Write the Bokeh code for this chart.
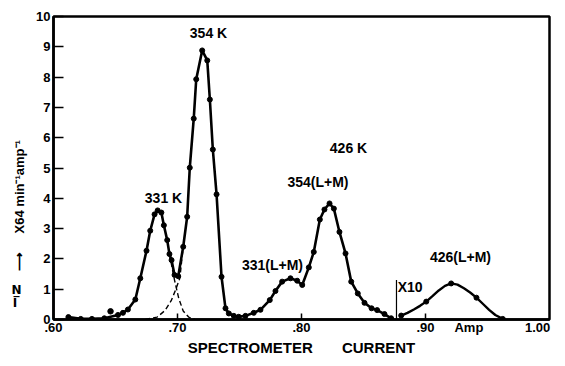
import numpy as np
from bokeh.plotting import figure
from bokeh.models import Label, FixedTicker, Range1d, LinearAxis
from bokeh.embed import file_html
from bokeh.resources import INLINE

# ---- data (x: spectrometer current in Amp, y: N/I x64) ----
main_x = [0.612, 0.622, 0.631, 0.641, 0.652, 0.656, 0.660, 0.666, 0.670, 0.675,
          0.678, 0.6815, 0.684, 0.687, 0.689, 0.6917, 0.6935, 0.6952, 0.6976, 0.7006,
          0.7046, 0.7078, 0.7099, 0.7131, 0.7151, 0.7199, 0.7240, 0.7261, 0.7285, 0.7315,
          0.7355, 0.7387, 0.7414, 0.7454, 0.7494, 0.7548, 0.7615, 0.7669, 0.7744, 0.7790,
          0.7844, 0.7911, 0.7965, 0.8006, 0.8059, 0.8099, 0.8148, 0.8185, 0.8226, 0.8261,
          0.8306, 0.8355, 0.8401, 0.8454, 0.8508, 0.8565, 0.8610, 0.8669, 0.8723]
main_y = [0.08, 0.02, 0.02, 0.04, 0.15, 0.22, 0.33, 0.66, 1.36, 2.27,
          2.93, 3.47, 3.60, 3.53, 3.11, 2.62, 2.16, 1.96, 1.47, 1.43,
          2.40, 3.39, 5.01, 6.63, 7.93, 8.88, 8.55, 7.26, 5.61, 4.13,
          1.41, 0.37, 0.20, 0.12, 0.09, 0.12, 0.22, 0.32, 0.64, 0.94,
          1.25, 1.36, 1.28, 1.14, 1.72, 2.23, 3.30, 3.63, 3.83, 3.66,
          2.89, 2.18, 1.25, 0.86, 0.55, 0.37, 0.31, 0.18, 0.04]
stray_x = [0.646]
stray_y = [0.27]

# 331 K and 354 K components (dashed) near their overlap
k331_tail_x = [0.6935, 0.6976, 0.7010, 0.7046, 0.7090, 0.7140]
k331_tail_y = [2.16, 1.30, 0.70, 0.28, 0.08, 0.00]
k354_rise_x = [0.6740, 0.6836, 0.6900, 0.6949, 0.6984, 0.7019, 0.7046]
k354_rise_y = [0.00, 0.08, 0.30, 0.62, 0.97, 1.37, 2.40]

# 426 (L+M) region, scaled x10
x10_x = [0.8804, 0.8855, 0.8906, 0.8956, 0.9006, 0.9056, 0.9107, 0.9157, 0.9207,
         0.9258, 0.9310, 0.9360, 0.9411, 0.9462, 0.9513, 0.9563, 0.9623]
x10_y = [0.13, 0.22, 0.33, 0.45, 0.59, 0.77, 0.96, 1.11, 1.19,
         1.15, 1.03, 0.89, 0.72, 0.52, 0.32, 0.15, 0.02]
x10_dot_x = [0.8804, 0.9006, 0.9207, 0.9411, 0.9623]
x10_dot_y = [0.13, 0.59, 1.19, 0.72, 0.02]
x10_mark_x = 0.8766
x10_mark_top = 1.3

# axis ticks / labels
x_ticks = [0.6, 0.7, 0.8, 0.9, 0.935, 1.0]
x_tick_labels = [".60", ".70", ".80", ".90", "Amp", "1.00\u00a0\u00a0"]
x_tick_marks = [0.7, 0.8, 0.9]
y_ticks = list(range(0, 11))

# y-axis title pieces:  N / I  ->  X64 min^-1 amp^-1
ytitle_pos = [1.93, 4.38]
ytitle_text = ["\u27f6", "X64 min\u207b\u00b9amp\u207b\u00b9"]
yfrac_pos = [0.98, 0.54]
yfrac_text = ["N\u0332", "I\u00a0"]

peak_labels = ["354 K", "331 K", "331(L+M)", "354(L+M)", "426 K", "426(L+M)"]
peak_label_x = [0.7250, 0.6887, 0.7766, 0.8133, 0.8379, 0.9282]
peak_label_y = [9.44, 4.00, 1.79, 4.53, 5.65, 2.06]

FONT = "Liberation Sans"

p = figure(width=557, height=358, output_backend="svg", toolbar_location=None,
           x_range=Range1d(0.6, 1.0), y_range=Range1d(0, 10),
           min_border_left=53, min_border_right=8, min_border_top=16, min_border_bottom=38)
p.grid.visible = False
p.background_fill_color = "white"
p.border_fill_color = "white"
p.outline_line_color = "black"
p.outline_line_width = 2.5

xax = p.xaxis[0]
yax = p.yaxis[0]

xax.ticker = FixedTicker(ticks=x_ticks, minor_ticks=x_tick_marks)
xax.major_label_overrides = {t: l for t, l in zip(x_ticks, x_tick_labels)}
yax.ticker = FixedTicker(ticks=y_ticks)
for ax in (xax, yax):
    ax.axis_line_width = 2.5
    ax.axis_line_color = "black"
    ax.major_tick_line_width = 1.5
    ax.major_tick_line_color = "black"
    ax.major_tick_out = 0
    ax.major_label_text_font = FONT
    ax.major_label_text_font_style = "bold"
    ax.major_label_text_font_size = "13px"
    ax.major_label_text_color = "black"
yax.minor_tick_line_color = None
yax.major_tick_in = 10
yax.major_label_standoff = 3
xax.major_tick_in = 0
xax.minor_tick_in = 6
xax.minor_tick_out = 0
xax.minor_tick_line_width = 1.5
xax.minor_tick_line_color = "black"
xax.major_label_standoff = 0
xax.axis_label = "SPECTROMETER\u00a0\u00a0\u00a0\u00a0\u00a0\u00a0\u00a0CURRENT"
xax.axis_label_text_font = FONT
xax.axis_label_text_font_style = "bold"
xax.axis_label_text_font_size = "15px"
xax.axis_label_text_color = "black"
xax.axis_label_standoff = 1

# rotated y title (as tick labels on an extra left axis)
ax_a = LinearAxis(ticker=FixedTicker(ticks=ytitle_pos),
                  major_label_overrides={t: s for t, s in zip(ytitle_pos, ytitle_text)},
                  major_label_orientation="vertical",
                  axis_line_color=None, major_tick_line_color=None, minor_tick_line_color=None,
                  major_label_standoff=0, major_label_text_font=FONT,
                  major_label_text_font_style="bold", major_label_text_font_size="13px",
                  major_label_text_color="black")
p.add_layout(ax_a, "left")
# upright N / I fraction
ax_b = LinearAxis(ticker=FixedTicker(ticks=yfrac_pos),
                  major_label_overrides={t: s for t, s in zip(yfrac_pos, yfrac_text)},
                  axis_line_color=None, major_tick_line_color=None, minor_tick_line_color=None,
                  major_label_standoff=-18, major_label_text_font="DejaVu Sans",
                  major_label_text_font_style="bold", major_label_text_font_size="12px",
                  major_label_text_color="black")
p.add_layout(ax_b, "left")

# curves
p.line(main_x, main_y, line_color="black", line_width=2.6)
p.scatter(main_x, main_y, size=5, color="black")
p.scatter(stray_x, stray_y, size=5.5, color="black")
p.line(k331_tail_x, k331_tail_y, line_color="black", line_width=1.4, line_dash="5 3")
p.line(k354_rise_x, k354_rise_y, line_color="black", line_width=1.4, line_dash="5 3")
p.line(x10_x, x10_y, line_color="black", line_width=2.4)
p.scatter(x10_dot_x, x10_dot_y, size=5, color="black")
p.segment(x0=[x10_mark_x], y0=[0], x1=[x10_mark_x], y1=[x10_mark_top],
          line_color="black", line_width=1.2)

def add_label(text, x, y, size="14px", align="center"):
    p.add_layout(Label(x=x, y=y, text=text, text_font=FONT, text_font_style="bold",
                       text_font_size=size, text_align=align, text_baseline="middle",
                       text_color="black"))

for t, lx, ly in zip(peak_labels, peak_label_x, peak_label_y):
    add_label(t, lx, ly)
add_label("X10", x10_mark_x + 0.001, 1.07, align="left")

open("out.html", "w").write(file_html(p, INLINE))
